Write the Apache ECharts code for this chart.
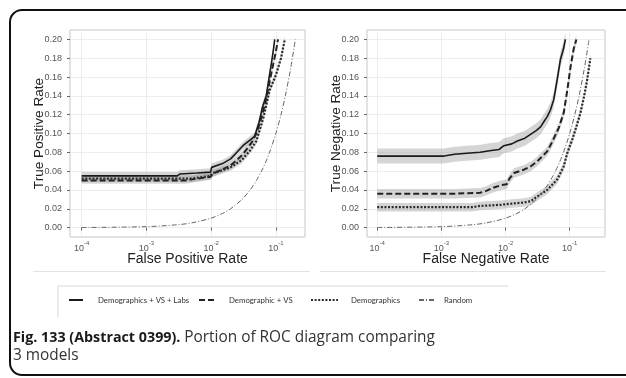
<!DOCTYPE html>
<html><head><meta charset="utf-8">
<script src="https://cdn.jsdelivr.net/npm/echarts@6/dist/echarts.min.js"></script>
<style>html,body{margin:0;padding:0;background:#fff}#c{width:626px;height:378px}</style>
</head><body><div id="c"></div>
<script>
// ---------- data ----------
const seriesNames = ['Demographics + VS + Labs', 'Demographic + VS', 'Demographics', 'Random'];
const xTicks = [1e-4, 1e-3, 1e-2, 1e-1];
const yTicks = [0, 0.02, 0.04, 0.06, 0.08, 0.10, 0.12, 0.14, 0.16, 0.18, 0.20];

// Left panel: True Positive Rate vs False Positive Rate
const tprLabs = [[1e-4,0.055],[3e-3,0.055],[3.3e-3,0.057],[6e-3,0.058],[0.0098,0.059],[0.0102,0.064],[0.015,0.068],[0.02,0.073],[0.025,0.080],[0.031,0.087],[0.038,0.092],[0.047,0.097],[0.055,0.112],[0.062,0.128],[0.071,0.140],[0.078,0.158],[0.0855,0.175],[0.092,0.190],[0.096,0.200]];
const tprVS = [[1e-4,0.050],[4e-3,0.050],[6e-3,0.052],[0.0098,0.054],[0.0105,0.057],[0.015,0.062],[0.02,0.066],[0.03,0.077],[0.042,0.090],[0.05,0.100],[0.06,0.117],[0.07,0.135],[0.08,0.155],[0.09,0.172],[0.1,0.187],[0.108,0.200]];
const tprDemo = [[1e-4,0.052],[5e-3,0.052],[0.0098,0.055],[0.0105,0.058],[0.015,0.061],[0.02,0.064],[0.03,0.072],[0.04,0.082],[0.05,0.092],[0.065,0.118],[0.08,0.146],[0.1,0.162],[0.12,0.180],[0.1375,0.200]];
const randomCurve = [[1e-4,0.0001],[1e-3,0.001],[3e-3,0.003],[5e-3,0.005],[0.01,0.01],[0.015,0.015],[0.02,0.02],[0.03,0.03],[0.04,0.04],[0.05,0.05],[0.06,0.06],[0.07,0.07],[0.08,0.08],[0.1,0.1],[0.12,0.12],[0.14,0.14],[0.17,0.17],[0.2,0.2]];

// Right panel: True Negative Rate vs False Negative Rate
const tnrLabs = [[1e-4,0.076],[1.1e-3,0.076],[1.6e-3,0.078],[2.5e-3,0.079],[4e-3,0.080],[6e-3,0.082],[7.9e-3,0.083],[0.0094,0.087],[0.0125,0.089],[0.0153,0.092],[0.02,0.095],[0.0245,0.099],[0.03,0.103],[0.0351,0.107],[0.04,0.113],[0.0446,0.118],[0.05,0.125],[0.0564,0.136],[0.0637,0.157],[0.0718,0.179],[0.08,0.190],[0.0857,0.200]];
const tnrVS = [[1e-4,0.036],[1.6e-3,0.036],[2.5e-3,0.0365],[4e-3,0.037],[5e-3,0.039],[6.2e-3,0.042],[8.4e-3,0.045],[0.0104,0.046],[0.0115,0.052],[0.0135,0.058],[0.0193,0.0615],[0.0245,0.065],[0.0311,0.0703],[0.0351,0.074],[0.0446,0.081],[0.0533,0.091],[0.0675,0.106],[0.0807,0.122],[0.0912,0.145],[0.1026,0.170],[0.1154,0.190],[0.127,0.200]];
const tnrDemo = [[1e-4,0.0217],[3e-3,0.0217],[4e-3,0.023],[8.4e-3,0.0242],[0.0105,0.025],[0.0193,0.0267],[0.0245,0.028],[0.0311,0.033],[0.0446,0.040],[0.0637,0.051],[0.0807,0.065],[0.0912,0.079],[0.109,0.093],[0.128,0.108],[0.147,0.122],[0.168,0.140],[0.187,0.157],[0.21,0.180]];

// confidence band half-widths (read from ribbons)
const bandLeft = [0.004, 0.0035, 0.0035];
const bandRight = [0.008, 0.005, 0.0045];

// ---------- styles ----------
const lineStyles = [
  {color:'#1a1a1a', width:1.6, type:'solid'},
  {color:'#222', width:2, type:[6,3]},
  {color:'#2a2a2a', width:2.2, type:[2,1.6]},
  {color:'#666', width:1, type:[5,2,1,2]}
];
const font = 'Liberation Sans, Arial, sans-serif';

function xAxisFor(idx, name, min, max) {
  return {
    type:'log', logBase:10, gridIndex:idx, min:min, max:max,
    name:name, nameLocation:'middle', nameGap:15, nameMoveOverlap:false,
    nameTextStyle:{fontFamily:font, fontSize:14, color:'#222'},
    axisLine:{show:false},
    axisTick:{show:true, length:3, lineStyle:{color:'#666'}, customValues:xTicks},
    axisLabel:{customValues:xTicks, margin:3, fontFamily:font,
      formatter: v => '{b|10}{s|' + Math.round(Math.log10(v)) + '}',
      rich:{ b:{fontSize:9, color:'#555', fontFamily:font, lineHeight:13, verticalAlign:'bottom'},
             s:{fontSize:6, color:'#555', fontFamily:font, lineHeight:13, verticalAlign:'top'} }},
    splitLine:{show:true, lineStyle:{color:'#e8e8e8', width:0.8}}
  };
}
function yAxisFor(idx, name) {
  return {
    type:'value', gridIndex:idx, min:-0.01, max:0.21,
    name:name, nameLocation:'middle', nameGap:23.5, nameMoveOverlap:false,
    nameTextStyle:{fontFamily:font, fontSize:13.6, color:'#222'},
    axisLine:{show:false},
    axisTick:{show:true, length:3, lineStyle:{color:'#666'}, customValues:yTicks},
    axisLabel:{customValues:yTicks, margin:8, fontFamily:font, fontSize:9, color:'#555',
      formatter: v => v.toFixed(2)},
    splitLine:{show:true, lineStyle:{color:'#e8e8e8', width:0.8}}
  };
}

function bandSeries(idx, data, hw) {
  const upper = data.map(p => [p[0], p[1] + hw]);
  const lower = data.map(p => [p[0], p[1] - hw]).reverse();
  return {
    type:'custom', xAxisIndex:idx, yAxisIndex:idx, name:'band', silent:true, z:1,
    data:[[data[0][0], data[0][1]]],
    renderItem:(params, api) => {
      const pts = upper.map(p => api.coord(p)).concat(lower.map(p => api.coord(p)));
      const cs = params.coordSys;
      return {
        type:'polygon', shape:{points:pts},
        style:{fill:'rgba(150,150,150,0.4)', stroke:null},
        clipPath:{type:'rect', shape:{x:cs.x, y:cs.y, width:cs.width, height:cs.height}}
      };
    }
  };
}

function panelSeries(idx, curves, bands) {
  const out = [];
  for (let i = 0; i < 3; i++) out.push(bandSeries(idx, curves[i], bands[i]));
  curves.forEach((data, i) => {
    out.push({type:'line', xAxisIndex:idx, yAxisIndex:idx, name:seriesNames[i], data:data,
      symbol:'none', color:lineStyles[i].color, lineStyle:lineStyles[i],
      smooth: i === 3 ? 0.3 : false, z:3});
  });
  return out;
}

const legendPos = [[68,14,10],[198,15,10],[310,27,8],[418,17,3]];
const legends = seriesNames.map((n, i) => ({
  data:[n], left:legendPos[i][0], top:296, padding:0, itemWidth:legendPos[i][1], itemHeight:10,
  itemGap:0, selectedMode:false,
  itemStyle:{opacity:0, borderWidth:0},
  formatter: name => '{p|}' + name,
  textStyle:{fontFamily:'Lato, sans-serif', fontSize:7.8, color:'#333',
    rich:{p:{width:legendPos[i][2]}}}
}));

const chart = echarts.init(document.getElementById('c'), null, {renderer:'canvas'});
chart.setOption({
  animation:false,
  backgroundColor:'#fff',
  grid:[
    {left:70, top:30, width:235, height:207, show:true, borderColor:'#c6c6c6', borderWidth:1, backgroundColor:'#fff'},
    {left:367, top:30, width:238, height:207, show:true, borderColor:'#c6c6c6', borderWidth:1, backgroundColor:'#fff'}
  ],
  xAxis:[ xAxisFor(0, 'False Positive Rate', Math.pow(10,-4.18), Math.pow(10,-0.55)),
          xAxisFor(1, 'False Negative Rate', Math.pow(10,-4.16), Math.pow(10,-0.45)) ],
  yAxis:[ yAxisFor(0, 'True Positive Rate'), yAxisFor(1, 'True Negative Rate') ],
  legend:legends,
  title:{
    left:13, top:329, padding:0,
    text:'{b|Fig. 133 (Abstract 0399).} {n|Portion of ROC diagram comparing}\n{n|3 models}',
    textStyle:{fontFamily:'Open Sans, sans-serif', fontSize:15, fontWeight:'normal', lineHeight:18,
      rich:{ b:{fontFamily:'Open Sans, sans-serif', fontSize:14.3, fontWeight:'bold', color:'#1a1a1a', lineHeight:18},
             n:{fontFamily:'Open Sans, sans-serif', fontSize:15.4, fontWeight:'normal', color:'#333', lineHeight:18} }}
  },
  graphic:[
    {type:'rect', shape:{x:10, y:10, width:660, height:365, r:12}, style:{fill:null, stroke:'#111', lineWidth:2}, silent:true},
    {type:'line', shape:{x1:58, y1:286, x2:508, y2:286}, style:{stroke:'#d6d6d6', lineWidth:1}, silent:true},
    {type:'line', shape:{x1:58, y1:286, x2:58, y2:317}, style:{stroke:'#d6d6d6', lineWidth:1}, silent:true},
    {type:'line', shape:{x1:33, y1:271.5, x2:310, y2:271.5}, style:{stroke:'#e2e2e2', lineWidth:1}, silent:true},
    {type:'line', shape:{x1:320, y1:271.5, x2:606, y2:271.5}, style:{stroke:'#e2e2e2', lineWidth:1}, silent:true}
  ],
  series:[].concat(
    panelSeries(0, [tprLabs, tprVS, tprDemo, randomCurve], bandLeft),
    panelSeries(1, [tnrLabs, tnrVS, tnrDemo, randomCurve], bandRight)
  )
});
</script></body></html>
